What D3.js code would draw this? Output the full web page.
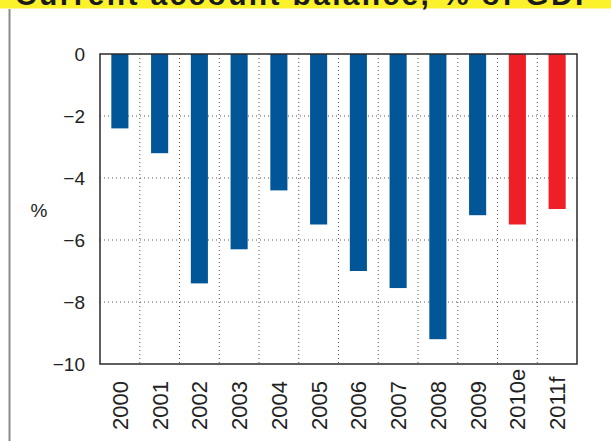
<!DOCTYPE html>
<html>
<head>
<meta charset="utf-8">
<script src="https://cdn.jsdelivr.net/npm/d3@7"></script>
<style>
  body { margin: 0; background: #fff; }
  svg { display: block; }
</style>
</head>
<body>
<div id="chart"></div>
<script>
// chart data
const years = ["2000", "2001", "2002", "2003", "2004", "2005", "2006", "2007", "2008", "2009", "2010e", "2011f"];
const balance = [-2.4, -3.2, -7.4, -6.3, -4.4, -5.5, -7.0, -7.55, -9.2, -5.2, -5.5, -5.0];
const isForecast = [false, false, false, false, false, false, false, false, false, false, true, true];
const yTicks = [0, -2, -4, -6, -8, -10];
const titleText = "Current account balance, % of GDP";

const width = 611, height = 441;
const margin = { top: 54, right: 34, bottom: 77, left: 100 };
const plotW = width - margin.left - margin.right;
const plotH = height - margin.top - margin.bottom;

const svg = d3.select("#chart")
    .append("svg")
    .attr("width", width)
    .attr("height", height);

// yellow title band, the heading runs off the top like in the source
svg.append("rect")
    .attr("x", 0).attr("y", 0)
    .attr("width", width).attr("height", 8.5)
    .attr("fill", "#fbf22c");
svg.append("text")
    .attr("x", 15).attr("y", 5)
    .attr("font-family", "Liberation Sans, Arial, sans-serif")
    .attr("font-weight", "bold")
    .attr("font-size", 30)
    .attr("textLength", 580)
    .attr("fill", "#1a1a1a")
    .text(titleText);

// left side rule
svg.append("line")
    .attr("x1", 9.5).attr("x2", 9.5)
    .attr("y1", 9).attr("y2", height)
    .attr("stroke", "#8a8a8a")
    .attr("stroke-width", 2);

const g = svg.append("g")
    .attr("transform", `translate(${margin.left},${margin.top})`);

const x = d3.scaleBand()
    .domain(years)
    .range([0, plotW])
    .paddingInner(0.57)
    .paddingOuter(0.285);

const y = d3.scaleLinear()
    .domain([-10, 0])
    .range([plotH, 0]);

// horizontal dotted grid
g.selectAll(".hgrid")
    .data(yTicks.filter(d => d !== 0 && d !== -10))
    .enter()
    .append("line")
    .attr("x1", 0).attr("x2", plotW)
    .attr("y1", d => y(d)).attr("y2", d => y(d))
    .attr("stroke", "#555")
    .attr("stroke-width", 1)
    .attr("stroke-dasharray", "1,3");

// vertical dotted grid between categories
g.selectAll(".vgrid")
    .data(years.slice(1))
    .enter()
    .append("line")
    .attr("x1", d => x(d) - x.step() * x.paddingInner() / 2)
    .attr("x2", d => x(d) - x.step() * x.paddingInner() / 2)
    .attr("y1", 0).attr("y2", plotH)
    .attr("stroke", "#555")
    .attr("stroke-width", 1)
    .attr("stroke-dasharray", "1,3");

// bars
g.selectAll(".bar")
    .data(years)
    .enter()
    .append("rect")
    .attr("x", d => x(d))
    .attr("y", y(0))
    .attr("width", x.bandwidth())
    .attr("height", (d, i) => y(balance[i]) - y(0))
    .attr("fill", (d, i) => isForecast[i] ? "#ee1f26" : "#005697");

// frame
g.append("rect")
    .attr("x", 0).attr("y", 0)
    .attr("width", plotW).attr("height", plotH)
    .attr("fill", "none")
    .attr("stroke", "#2a2a2a")
    .attr("stroke-width", 1.5);

// y axis labels
const yAxis = d3.axisLeft(y)
    .tickValues(yTicks)
    .tickSize(0)
    .tickPadding(15)
    .tickFormat(d3.format("d"));
g.append("g")
    .call(yAxis)
    .call(a => a.select(".domain").remove())
    .call(a => a.selectAll("text")
        .attr("font-family", "Liberation Sans, Arial, sans-serif")
        .attr("font-size", 19)
        .attr("fill", "#222"));

// x axis labels, rotated
g.selectAll(".xlabel")
    .data(years)
    .enter()
    .append("text")
    .attr("transform", d => `translate(${x(d) + x.bandwidth() / 2},${plotH + 66}) rotate(-90)`)
    .attr("dy", "0.36em")
    .attr("text-anchor", "start")
    .attr("font-family", "Liberation Sans, Arial, sans-serif")
    .attr("font-size", 22)
    .attr("fill", "#222")
    .text(d => d);

// unit label
svg.append("text")
    .attr("x", 39).attr("y", 217)
    .attr("text-anchor", "middle")
    .attr("font-family", "Liberation Sans, Arial, sans-serif")
    .attr("font-size", 19)
    .attr("fill", "#222")
    .text("%");
</script>
</body>
</html>
